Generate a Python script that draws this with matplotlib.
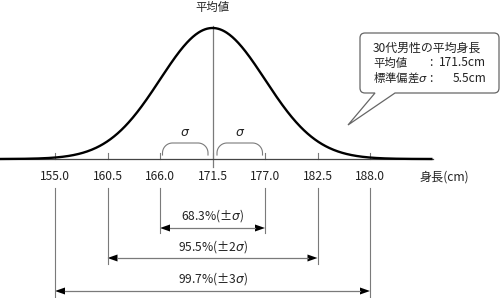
import numpy as np

import matplotlib
matplotlib.use('Agg')
import matplotlib.pyplot as plt
from matplotlib.path import Path
from matplotlib.patches import PathPatch, Polygon

plt.rcParams['font.family'] = ['Noto Sans CJK JP', 'DejaVu Sans']

# data
mean = 171.5
sd = 5.5
tick_vals = [155.0, 160.5, 166.0, 171.5, 177.0, 182.5, 188.0]
k_sigma = [1, 2, 3]
pct_labels = ['68.3%(±$\\sigma$)', '95.5%(±2$\\sigma$)', '99.7%(±3$\\sigma$)']
info_title = '30代男性の平均身長'
info_rows = ['平均値', '標準偏差$\\sigma$']
info_vals = ['171.5cm', '5.5cm']
mean_label = '平均値'
axis_label = '身長(cm)'

W, H = 500, 298
pxcm = 315 / 33.0              # pixels per cm
x_left = tick_vals[0] - 55 / pxcm
base = 159                     # baseline, pixels from top

fig = plt.figure(figsize=(W / 100, H / 100), dpi=100)
ax = fig.add_axes([0, 0, 1, 1])
ax.set_xlim(x_left, x_left + W / pxcm)
ax.set_ylim(-(H - base), base)
ax.axis('off')


def px(x, y):
    # layout helper: figure pixel (top-left origin) -> data coords
    return x_left + x / pxcm, base - y


grey = '#7a7a7a'
txt = '#222222'

# curve
x_end = mean + 220 / pxcm
xs = np.linspace(x_left, x_end, 600)
ys = 131 * np.exp(-0.5 * ((xs - mean) / sd) ** 2)
ax.plot([x_left, x_end], [0, 0], color='#444444', lw=0.9, zorder=2)
ax.plot(xs, ys, color='black', lw=1.7, zorder=3, solid_capstyle='butt')

# ticks + labels
for v in tick_vals:
    ax.plot([v, v], [0, 6], color=grey, lw=0.8, zorder=1)
    ax.text(v, -18, f'{v:.1f}', ha='center', va='center', fontsize=8.7, color=txt)
ax.text(*px(420, 177), axis_label, ha='left', va='center', fontsize=8.7, color=txt)

# mean line
ax.plot([mean, mean], [-8, 133], color=grey, lw=0.9, zorder=1)
ax.text(mean, 152, mean_label, ha='center', va='center', fontsize=8.2, color=txt)

# sigma brackets
gap = 4.5 / pxcm
r = 10
top = 16
for a, b in [(mean - sd + 2.5 / pxcm, mean - gap), (mean + gap, mean + sd - 2.5 / pxcm)]:
    rx = r / pxcm
    t = np.linspace(np.pi, np.pi / 2, 20)
    lx = a + rx + rx * np.cos(t)
    ly = top - r + r * np.sin(t)
    t2 = np.linspace(np.pi / 2, 0, 20)
    rxs = b - rx + rx * np.cos(t2)
    rys = top - r + r * np.sin(t2)
    bx = np.concatenate([[a], lx, rxs, [b]])
    by = np.concatenate([[4], ly, rys, [4]])
    ax.plot(bx, by, color=grey, lw=0.8)
    ax.text((a + b) / 2, 27, '$\\sigma$', ha='center', va='center', fontsize=9, color=txt)

# range arrows
line_bottom = [-74, -105, -(H - base)]
arrow_y = [-69, -99, -132]
label_y = [-57, -88, -120]
hl = 10 / pxcm
hw = 3.5
for k, lab, lb, ay, ly in zip(k_sigma, pct_labels, line_bottom, arrow_y, label_y):
    lo, hi = mean - k * sd, mean + k * sd
    for v in (lo, hi):
        ax.plot([v, v], [-29, lb], color=grey, lw=0.8)
    ax.plot([lo + hl, hi - hl], [ay, ay], color=grey, lw=0.9)
    ax.add_patch(Polygon([[lo, ay], [lo + hl, ay + hw], [lo + hl, ay - hw]],
                         closed=True, color='black', lw=0))
    ax.add_patch(Polygon([[hi, ay], [hi - hl, ay + hw], [hi - hl, ay - hw]],
                         closed=True, color='black', lw=0))
    ax.text(mean, ly, lab, ha='center', va='center', fontsize=8.7, color=txt)

# callout box
x0, x1, y0, y1, rc = 360, 499, 33, 93, 5
tip = (348, 125)
pts = [
    ((x0 + rc, y0), Path.MOVETO),
    ((x1 - rc, y0), Path.LINETO),
    ((x1, y0), Path.CURVE3), ((x1, y0 + rc), Path.CURVE3),
    ((x1, y1 - rc), Path.LINETO),
    ((x1, y1), Path.CURVE3), ((x1 - rc, y1), Path.CURVE3),
    ((395, y1), Path.LINETO),
    (tip, Path.LINETO),
    ((375, y1), Path.LINETO),
    ((x0 + rc, y1), Path.LINETO),
    ((x0, y1), Path.CURVE3), ((x0, y1 - rc), Path.CURVE3),
    ((x0, y0 + rc), Path.LINETO),
    ((x0, y0), Path.CURVE3), ((x0 + rc, y0), Path.CURVE3),
    ((x0 + rc, y0), Path.CLOSEPOLY),
]
verts = [px(*p) for p, _ in pts]
codes = [c for _, c in pts]
ax.add_patch(PathPatch(Path(verts, codes), facecolor='white', edgecolor='#666666',
                       lw=0.9, zorder=5))

ax.text(*px(373, 48), info_title, ha='left', va='center', fontsize=8.6, color=txt, zorder=6)
for i, (lab, val) in enumerate(zip(info_rows, info_vals)):
    yy = [63, 78][i]
    ax.text(*px(373, yy), lab, ha='left', va='center', fontsize=8.2, color=txt, zorder=6)
    ax.text(*px(431, yy), ':', ha='center', va='center', fontsize=8.6, color=txt, zorder=6)
    ax.text(*px(486, yy), val, ha='right', va='center', fontsize=8.6, color=txt, zorder=6)

fig.savefig('out.png', dpi=100)
